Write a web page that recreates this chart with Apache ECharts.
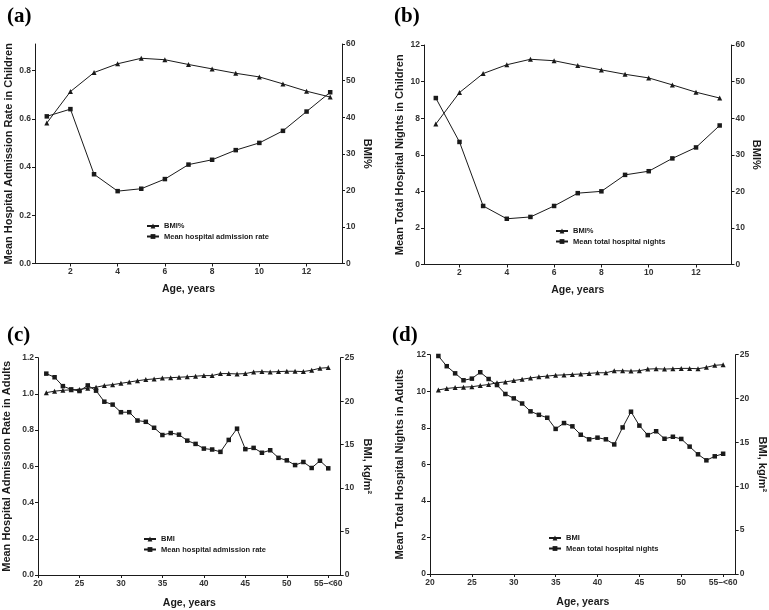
<!DOCTYPE html>
<html>
<head>
<meta charset="utf-8">
<script src="https://cdn.jsdelivr.net/npm/echarts@6/dist/echarts.min.js"></script>
<style>
html,body{margin:0;padding:0;background:#fff;}
#chart{width:769px;height:610px;}
</style>
</head>
<body>
<div id="chart"></div>
<script>
// ---- Data ----
const childAges = [1, 2, 3, 4, 5, 6, 7, 8, 9, 10, 11, 12, 13];
const childBmiPct = [38.4, 47.0, 52.2, 54.6, 56.1, 55.7, 54.4, 53.2, 52.0, 51.0, 49.1, 47.1, 45.5];
const childAdmissionRate = [0.61, 0.64, 0.37, 0.30, 0.31, 0.35, 0.41, 0.43, 0.47, 0.50, 0.55, 0.63, 0.71];
const childNights = [9.1, 6.7, 3.2, 2.5, 2.6, 3.2, 3.9, 4.0, 4.9, 5.1, 5.8, 6.4, 7.6];

const adultAges = [21, 22, 23, 24, 25, 26, 27, 28, 29, 30, 31, 32, 33, 34, 35, 36, 37, 38, 39, 40,
                   41, 42, 43, 44, 45, 46, 47, 48, 49, 50, 51, 52, 53, 54, 55];
const adultBmi = [20.98, 21.15, 21.25, 21.3, 21.35, 21.48, 21.6, 21.8, 21.9, 22.05, 22.2, 22.35, 22.48,
                  22.56, 22.66, 22.7, 22.75, 22.8, 22.87, 22.94, 22.94, 23.17, 23.17, 23.13, 23.17,
                  23.36, 23.4, 23.36, 23.4, 23.44, 23.44, 23.4, 23.56, 23.79, 23.86];
const adultAdmissionRate = [1.112, 1.092, 1.043, 1.025, 1.016, 1.047, 1.018, 0.957, 0.941, 0.899, 0.899,
                            0.853, 0.846, 0.813, 0.773, 0.784, 0.775, 0.742, 0.724, 0.698, 0.693, 0.680,
                            0.746, 0.808, 0.695, 0.702, 0.675, 0.689, 0.647, 0.633, 0.607, 0.624, 0.591,
                            0.631, 0.589];
const adultNights = [11.93, 11.37, 10.98, 10.6, 10.69, 11.04, 10.67, 10.34, 9.85, 9.61, 9.33, 8.9, 8.71,
                     8.55, 7.94, 8.26, 8.08, 7.62, 7.37, 7.46, 7.37, 7.09, 8.02, 8.88, 8.12, 7.6, 7.81,
                     7.40, 7.51, 7.39, 6.97, 6.55, 6.22, 6.44, 6.58];

// Tick labels
const childAgeTicks = [2, 4, 6, 8, 10, 12];
const adultAgeTicks = [20, 25, 30, 35, 40, 45, 50, 55];
const adultAgeTickLabels = ['20', '25', '30', '35', '40', '45', '50', '55\u2013<60'];
const rateTicksChild = [0, 0.2, 0.4, 0.6, 0.8];
const panelLabels = ['(a)', '(b)', '(c)', '(d)'];

// ---- Styles ----
const INK = '#1a1a1a';
const LBL = '#333';
const FONT = 'Liberation Sans, Arial, sans-serif';

const zip = (xs, ys) => xs.map((x, i) => [x, ys[i]]);

function tickLabelStyle(extra) {
  return Object.assign({color: LBL, fontSize: 8.5, fontWeight: 'bold', fontFamily: FONT}, extra || {});
}
const nameStyle = {color: INK, fontSize: 11, fontWeight: 'bold', fontFamily: FONT};
const xNameStyle = {color: INK, fontSize: 10.5, fontWeight: 'bold', fontFamily: FONT};

function xAxisDef(gi, kind, gap) {
  const isChild = kind === 'child';
  return {
    type: 'value', gridIndex: gi,
    min: isChild ? 0.5 : 20, max: isChild ? 13.5 : 56.5,
    name: 'Age, years', nameLocation: 'middle', nameGap: gap, nameTextStyle: xNameStyle,
    axisLine: {onZero: false, lineStyle: {color: INK, width: 1}},
    axisTick: {show: true, length: 3, lineStyle: {color: INK},
               customValues: isChild ? childAgeTicks : adultAgeTicks},
    axisLabel: tickLabelStyle({margin: 4,
               customValues: isChild ? childAgeTicks : adultAgeTicks,
               formatter: v => isChild ? String(v) : adultAgeTickLabels[adultAgeTicks.indexOf(v)]}),
    splitLine: {show: false}
  };
}
function yAxisDef(gi, pos, min, max, interval, name, gap, custom, fmt) {
  const ax = {
    type: 'value', gridIndex: gi, position: pos, min: min, max: max,
    name: name, nameLocation: 'middle', nameGap: gap, nameTextStyle: nameStyle,
    nameRotate: pos === 'right' ? -90 : 90,
    axisLine: {show: true, lineStyle: {color: INK, width: 1}},
    axisTick: {show: true, length: 3, lineStyle: {color: INK}},
    axisLabel: tickLabelStyle({margin: 4}),
    splitLine: {show: false}
  };
  if (custom) {
    ax.axisTick.customValues = custom;
    ax.axisLabel.customValues = custom;
  } else {
    ax.interval = interval;
  }
  if (fmt) ax.axisLabel.formatter = fmt;
  return ax;
}
function lineSeries(name, xi, yi, xs, ys, symbol, size) {
  return {
    type: 'line', name: name, xAxisIndex: xi, yAxisIndex: yi,
    data: zip(xs, ys), symbol: symbol, symbolSize: size,
    lineStyle: {color: INK, width: 1}, itemStyle: {color: INK},
    emphasis: {disabled: true}, animation: false
  };
}
function legendDef(left, top, names) {
  return {
    orient: 'vertical', left: left, top: top, data: names, padding: 0,
    itemWidth: 12, itemHeight: 6, itemGap: 2.5,
    textStyle: {color: INK, fontSize: 7.5, fontWeight: 'bold', fontFamily: FONT},
    selectedMode: false
  };
}

const chart = echarts.init(document.getElementById('chart'), null, {renderer: 'canvas'});
const option = {
  backgroundColor: '#fff',
  animation: false,
  title: [
    {text: panelLabels[0], left: 2, top: 1},
    {text: panelLabels[1], left: 389, top: 1},
    {text: panelLabels[2], left: 2, top: 320},
    {text: panelLabels[3], left: 387, top: 320}
  ].map(t => Object.assign(t, {textStyle: {color: '#000', fontSize: 21, fontWeight: 'bold',
                                             fontFamily: 'Liberation Serif, Times New Roman, serif'}})),
  grid: [
    {left: 35, top: 44, width: 307, height: 219.5},
    {left: 424, top: 45, width: 307.5, height: 219.5},
    {left: 35, top: 357.7, width: 305.7, height: 219.3},
    {left: 430, top: 354.7, width: 305.7, height: 219.3}
  ],
  xAxis: [
    xAxisDef(0, 'child', 20),
    xAxisDef(1, 'child', 20),
    xAxisDef(2, 'adult', 23),
    xAxisDef(3, 'adult', 23)
  ],
  yAxis: [
    yAxisDef(0, 'left', 0, 0.91, null, 'Mean Hospital Admission Rate in Children', 21, rateTicksChild, v => v.toFixed(1)),
    yAxisDef(0, 'right', 0, 60, 10, 'BMI%', 20),
    yAxisDef(1, 'left', 0, 12, 2, 'Mean Total Hospital Nights in Children', 19),
    yAxisDef(1, 'right', 0, 60, 10, 'BMI%', 19),
    yAxisDef(2, 'left', 0, 1.2, 0.2, 'Mean Hospital Admission Rate in Adults', 26, null, v => v.toFixed(1)),
    yAxisDef(2, 'right', 0, 25, 5, 'BMI, kg/m\u00B2', 20.5),
    yAxisDef(3, 'left', 0, 12, 2, 'Mean Total Hospital Nights in Adults', 25),
    yAxisDef(3, 'right', 0, 25, 5, 'BMI, kg/m\u00B2', 21)
  ],
  legend: [
    legendDef(146, 222, ['BMI%', 'Mean hospital admission rate']),
    legendDef(555, 227, ['BMI%', 'Mean total hospital nights']),
    legendDef(143, 535, ['BMI', 'Mean hospital admission rate']),
    legendDef(548, 534, ['BMI', 'Mean total hospital nights'])
  ],
  series: [
    lineSeries('BMI%', 0, 1, childAges, childBmiPct, 'triangle', 5),
    lineSeries('Mean hospital admission rate', 0, 0, childAges, childAdmissionRate, 'rect', 4.5),
    lineSeries('BMI%', 1, 3, childAges, childBmiPct, 'triangle', 5),
    lineSeries('Mean total hospital nights', 1, 2, childAges, childNights, 'rect', 4.5),
    lineSeries('BMI', 2, 5, adultAges, adultBmi, 'triangle', 5),
    lineSeries('Mean hospital admission rate', 2, 4, adultAges, adultAdmissionRate, 'rect', 4.5),
    lineSeries('BMI', 3, 7, adultAges, adultBmi, 'triangle', 5),
    lineSeries('Mean total hospital nights', 3, 6, adultAges, adultNights, 'rect', 4.5)
  ]
};
chart.setOption(option);
</script>
</body>
</html>
